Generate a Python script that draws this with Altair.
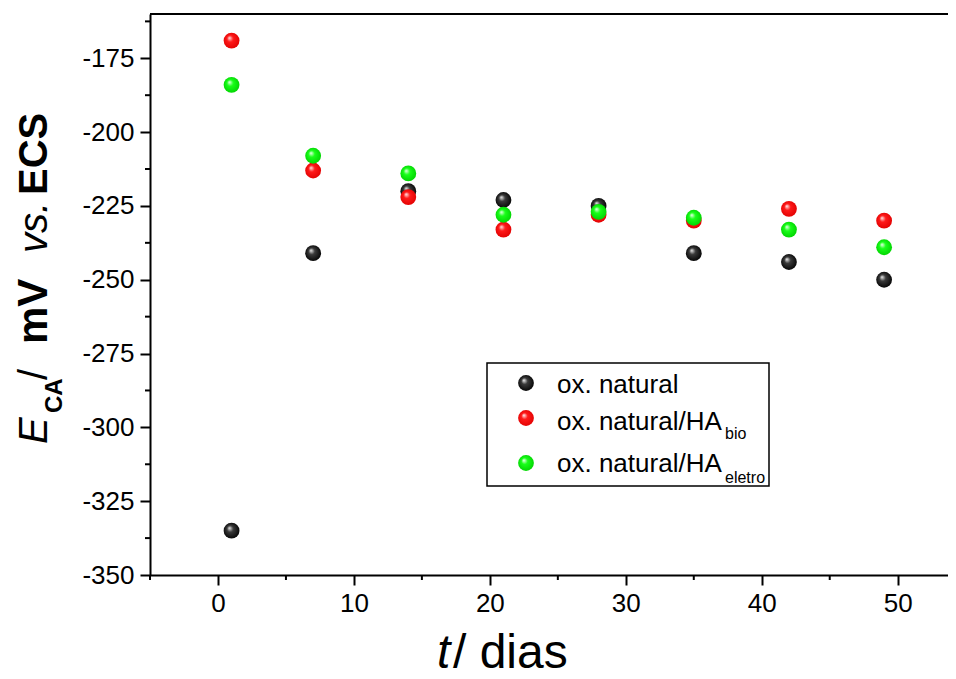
import altair as alt
import pandas as pd

# ---------------- data ----------------
days = [1, 7, 14, 21, 28, 35, 42, 49]
ox_natural = [-335, -241, -220, -223, -225, -241, -244, -250]
ox_bio = [-169, -213, -222, -233, -228, -230, -226, -230]
ox_eletro = [-184, -208, -214, -228, -227, -229, -233, -239]

series_values = [ox_natural, ox_bio, ox_eletro]
legend_main = ["ox. natural", "ox. natural/HA", "ox. natural/HA"]
legend_sub = ["", "bio", "eletro"]

x_major = [0, 10, 20, 30, 40, 50]
x_minor = [-5, 5, 15, 25, 35, 45]
y_major = [-350, -325, -300, -275, -250, -225, -200, -175]
y_minor = [-337.5, -312.5, -287.5, -262.5, -237.5, -212.5, -187.5, -162.5]

# ---------------- style ----------------
W, H = 798, 561
FONT = "Liberation Sans"

# sphere-like radial gradients (highlight, body, rim)
palettes = [
    ("#f0f0f0", "#3a3a3a", "#000000"),
    ("#fff0f0", "#ff1a1a", "#e00000"),
    ("#f0fff0", "#19ff19", "#00d000"),
]


def sphere(c0, c1, c2):
    return {
        "gradient": "radial",
        "x1": 0.36, "y1": 0.32, "r1": 0.0,
        "x2": 0.5, "y2": 0.5, "r2": 0.56,
        "stops": [
            {"offset": 0.0, "color": c0},
            {"offset": 0.36, "color": c1},
            {"offset": 1.0, "color": c2},
        ],
    }


xs = alt.Scale(domain=[-5, 53.7], nice=False, zero=False)
ys = alt.Scale(domain=[-350, -160], nice=False, zero=False)

common_axis = dict(
    title=None, grid=False, domainColor="black", domainWidth=2,
    tickColor="black", tickWidth=2, tickSize=10,
    labelFont=FONT, labelFontSize=26, labelColor="black",
    labelFlush=False, labelExpr="'' + datum.value",
)
x_enc = alt.X("day:Q", scale=xs, axis=alt.Axis(values=x_major, labelPadding=5, **common_axis))
y_enc = alt.Y("val:Q", scale=ys, axis=alt.Axis(values=y_major, labelPadding=6, **common_axis))

layers = []

# minor ticks
layers.append(
    alt.Chart(pd.DataFrame({"val": y_minor}))
    .mark_rule(color="black", strokeWidth=2)
    .encode(y=y_enc, x=alt.value(-5), x2=alt.value(0))
)
layers.append(
    alt.Chart(pd.DataFrame({"day": x_minor}))
    .mark_rule(color="black", strokeWidth=2)
    .encode(x=x_enc, y=alt.value(H), y2=alt.value(H + 5))
)
# top frame line
layers.append(
    alt.Chart(pd.DataFrame({"a": [0]}))
    .mark_rule(color="black", strokeWidth=2)
    .encode(x=alt.value(0), x2=alt.value(W), y=alt.value(0))
)

# data points
for vals, pal in zip(series_values, palettes):
    df = pd.DataFrame({"day": days, "val": vals})
    layers.append(
        alt.Chart(df)
        .mark_point(filled=True, shape="circle", size=250, fill=sphere(*pal),
                    opacity=1, strokeWidth=0)
        .encode(x=x_enc, y=y_enc)
    )

# legend box
layers.append(
    alt.Chart(pd.DataFrame({"a": [0]}))
    .mark_rect(fill="white", stroke="black", strokeWidth=1.5)
    .encode(x=alt.value(337), x2=alt.value(619), y=alt.value(349), y2=alt.value(472))
)
sym_y = [369, 404, 449]
txt_y = [379, 416, 458]
sub_y = [425, 425, 469]
for i, pal in enumerate(palettes):
    one = pd.DataFrame({"a": [0]})
    layers.append(
        alt.Chart(one)
        .mark_point(filled=True, shape="circle", size=250, fill=sphere(*pal),
                    opacity=1, strokeWidth=0)
        .encode(x=alt.value(376), y=alt.value(sym_y[i]))
    )
    layers.append(
        alt.Chart(one)
        .mark_text(align="left", baseline="alphabetic", font=FONT, fontSize=26, color="black")
        .encode(x=alt.value(407), y=alt.value(txt_y[i]), text=alt.value(legend_main[i]))
    )
    if legend_sub[i]:
        layers.append(
            alt.Chart(one)
            .mark_text(align="left", baseline="alphabetic", font=FONT, fontSize=16, color="black")
            .encode(x=alt.value(575), y=alt.value(sub_y[i]), text=alt.value(legend_sub[i]))
        )

# y-axis title pieces (rotated)
ytitle = [
    ("E", -103, 430, 40, "italic", "normal"),
    ("CA", -88, 399, 24, "normal", "bold"),
    ("/", -103, 366, 40, "normal", "normal"),
    ("mV", -103, 330, 42, "normal", "bold"),
    ("vs.", -103, 239, 40, "italic", "normal"),
    ("ECS", -103, 181, 40, "normal", "bold"),
]
for txt, px, py, fs, sty, wt in ytitle:
    layers.append(
        alt.Chart(pd.DataFrame({"a": [0]}))
        .mark_text(align="left", baseline="alphabetic", angle=270, font=FONT,
                   fontSize=fs, fontStyle=sty, fontWeight=wt, color="black")
        .encode(x=alt.value(px), y=alt.value(py), text=alt.value(txt))
    )

# x-axis title pieces
xtitle = [
    ("t", 287, 654, "italic"),
    ("/ dias", 303, 654, "normal"),
]
for txt, px, py, sty in xtitle:
    layers.append(
        alt.Chart(pd.DataFrame({"a": [0]}))
        .mark_text(align="left", baseline="alphabetic", font=FONT, fontSize=48,
                   fontStyle=sty, color="black")
        .encode(x=alt.value(px), y=alt.value(py), text=alt.value(txt))
    )

chart = (
    alt.layer(*layers)
    .properties(
        width=W, height=H,
        autosize=alt.AutoSizeParams(type="none"),
        padding={"left": 142, "top": 6, "right": 0, "bottom": 104},
    )
    .configure_view(stroke=None)
    .configure(background="white")
)

chart.save("out.html", embed_options={"renderer": "svg", "actions": False})
